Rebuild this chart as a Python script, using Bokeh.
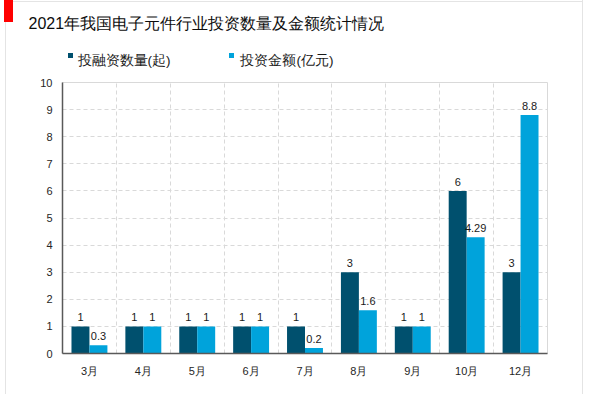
from bokeh.plotting import figure
from bokeh.models import (ColumnDataSource, FixedTicker, Grid, Title)
from bokeh.core.properties import value
from bokeh.embed import file_html
from bokeh.resources import INLINE

# ---- data ----
months = ["3月", "4月", "5月", "6月", "7月", "8月", "9月", "10月", "12月"]
deal_counts = [1, 1, 1, 1, 1, 3, 1, 6, 3]
amounts = [0.3, 1, 1, 1, 0.2, 1.6, 1, 4.29, 8.8]
count_labels = ["1", "1", "1", "1", "1", "3", "1", "6", "3"]
amount_labels = ["0.3", "1", "1", "1", "0.2", "1.6", "1", "4.29", "8.8"]
series_names = ["投融资数量(起)", "投资金额(亿元)"]
title_text = "2021年我国电子元件行业投资数量及金额统计情况"
y_ticks = list(range(0, 11))

DARK = "#00506e"
LIGHT = "#00a3db"
FONT = "Liberation Sans"

n = len(months)
centers = [i + 0.5 for i in range(n)]
bar_w = 1 / 3

src = ColumnDataSource(dict(
    xd=[c - bar_w / 2 for c in centers],
    xl=[c + bar_w / 2 for c in centers],
    cnt=deal_counts, amt=amounts,
    cl=count_labels, al=amount_labels,
))

p = figure(frame_width=485, frame_height=271, output_backend="svg", toolbar_location=None,
           x_range=(0, n), y_range=(0, 10),
           min_border_left=62, min_border_right=53, min_border_top=82, min_border_bottom=41)
p.outline_line_color = "#d9d9d9"
p.outline_line_width = 1
p.background_fill_color = "white"
p.border_fill_color = None
# card frame, red corner marker and the two legend swatches (decoration)
p.styles = {
    "background": ("linear-gradient(#ff0000,#ff0000) 4px 0px / 9px 22px no-repeat, "
                   f"linear-gradient({DARK},{DARK}) 68px 53px / 5px 5px no-repeat, "
                   f"linear-gradient({LIGHT},{LIGHT}) 229px 53px / 5px 5px no-repeat, "
                   "linear-gradient(#e4e4e4,#e4e4e4) 5px 0px / 1px 100% no-repeat, "
                   "linear-gradient(#e4e4e4,#e4e4e4) 582px 0px / 1px 100% no-repeat, "
                   "linear-gradient(#e4e4e4,#e4e4e4) 5px 1px / 578px 1px no-repeat, "
                   "#ffffff"),
}

r1 = p.vbar(x="xd", top="cnt", width=bar_w, source=src, fill_color=DARK, line_color=None)
r2 = p.vbar(x="xl", top="amt", width=bar_w, source=src, fill_color=LIGHT, line_color=None)

p.text(x="xd", y="cnt", text="cl", source=src, text_align="center", text_baseline="bottom",
       y_offset=-5, text_font=value(FONT), text_font_size="11px", text_color="#1a1a1a")
p.text(x="xl", y="amt", text="al", source=src, text_align="center", text_baseline="bottom",
       y_offset=-5, text_font=value(FONT), text_font_size="11px", text_color="#1a1a1a")

# axes
p.xaxis.ticker = FixedTicker(ticks=centers)
p.xaxis.major_label_overrides = {c: m for c, m in zip(centers, months)}
p.yaxis.ticker = FixedTicker(ticks=y_ticks)
for ax in (p.xaxis[0], p.yaxis[0]):
    ax.axis_line_color = "#595959"
    ax.axis_line_width = 1.5
    ax.major_tick_line_color = None
    ax.minor_tick_line_color = None
    ax.major_tick_out = 0
    ax.major_tick_in = 0
    ax.major_label_text_font = FONT
    ax.major_label_text_font_size = "11px"
    ax.major_label_text_color = "#262626"
p.yaxis.major_label_standoff = 10
p.xaxis.major_label_standoff = 11

# grids
p.xgrid.grid_line_color = None
p.ygrid.grid_line_color = "#d9d9d9"
p.ygrid.grid_line_dash = "4 3"
p.ygrid.ticker = FixedTicker(ticks=y_ticks[1:-1])
vgrid = Grid(dimension=0, ticker=FixedTicker(ticks=list(range(1, n))),
             grid_line_color="#d9d9d9", grid_line_dash="4 3")
p.add_layout(vgrid)

# main title
p.title = Title(text=title_text, align="left", offset=-34, standoff=7,
                text_font=FONT, text_font_size="16px", text_color="#0d0d0d",
                text_font_style="normal")
# legend labels (swatches are painted above as decoration)
gap = "\u3000" * 5
p.add_layout(Title(text=series_names[0] + gap + series_names[1], align="left", offset=15,
                   standoff=30, text_font=FONT, text_font_size="13.5px",
                   text_color="#1a1a1a", text_font_style="normal"), "above")

open("out.html", "w").write(file_html(p, INLINE))
